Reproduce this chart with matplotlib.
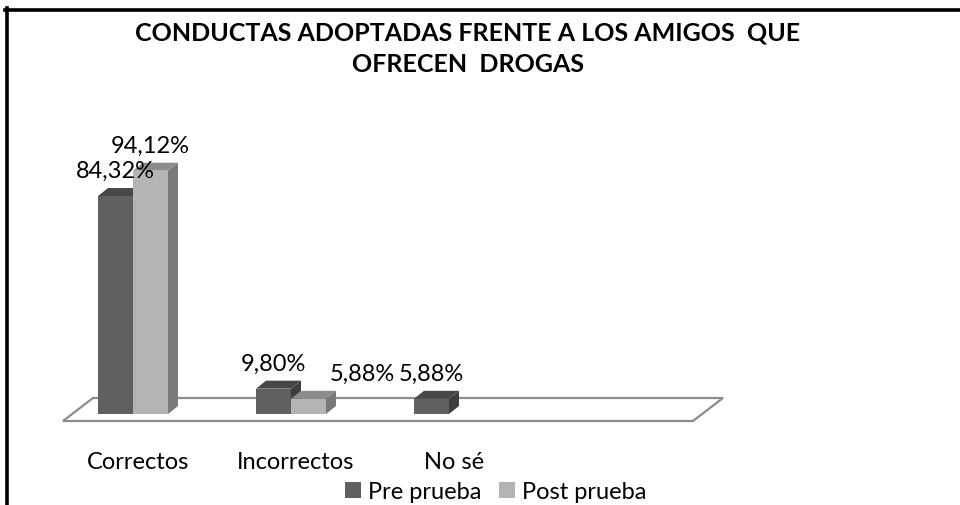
import matplotlib
matplotlib.use("Agg")
import matplotlib.pyplot as plt
from matplotlib.patches import Polygon, Rectangle
from matplotlib.lines import Line2D

# ---------------- data ----------------
title = "CONDUCTAS ADOPTADAS FRENTE A LOS AMIGOS  QUE\nOFRECEN  DROGAS"
categories = ["Correctos", "Incorrectos", "No sé"]
series_names = ["Pre prueba", "Post prueba"]
pre = [84.32, 9.80, 5.88]
post = [94.12, 5.88, 0.0]
pre_labels = ["84,32%", "9,80%", "5,88%"]
post_labels = ["94,12%", "5,88%", ""]

# ---------------- style ----------------
FONT = "Lato"
W, H, DPI = 960, 506, 100
PX_X = 158.0          # pixels per category
PX_Y = 2.585          # pixels per percent
X0_PX, Y0_PX = 133.0, 415.0
bar_w = 35 / PX_X
dx = 10 / PX_X
dy = 8 / PX_Y
colors = {
    "Pre prueba": ("#606060", "#474747", "#3e3e3e"),
    "Post prueba": ("#b4b4b4", "#8c8c8c", "#7a7a7a"),
}
LABEL_SIZE = 17

fig = plt.figure(figsize=(W / DPI, H / DPI), dpi=DPI)
ax = fig.add_axes([0, 0, 1, 1])
ax.set_xlim(-X0_PX / PX_X, (W - X0_PX) / PX_X)
ax.set_ylim(-(H - Y0_PX) / PX_Y, Y0_PX / PX_Y)
ax.axis("off")

# floor
n_slots = len(categories) + 1
f_front, f_back = -7 / PX_Y, 16 / PX_Y
f_left = -0.5 + 0.057
f_depth = 30 / PX_X
floor = Polygon([(f_left, f_front), (f_left + n_slots - 0.013, f_front),
                 (f_left + n_slots - 0.013 + f_depth, f_back), (f_left + f_depth, f_back)],
                closed=True, facecolor="white", edgecolor="#8c8c8c", lw=1.6, zorder=1)
ax.add_patch(floor)

def draw_bar(x0, h, cols, z):
    front, top, side = cols
    x1 = x0 + bar_w
    ax.add_patch(Polygon([(x1, 0), (x1, h), (x1 + dx, h + dy), (x1 + dx, dy)],
                         closed=True, facecolor=side, edgecolor="none", zorder=z))
    ax.add_patch(Polygon([(x0, h), (x1, h), (x1 + dx, h + dy), (x0 + dx, h + dy)],
                         closed=True, facecolor=top, edgecolor="none", zorder=z))
    ax.bar([x0], [h], width=bar_w, align="edge", color=front, edgecolor="none", zorder=z + 0.1)

label_shift = {("Post prueba", 1): 0.34}

for si, (name, vals, labs) in enumerate([("Pre prueba", pre, pre_labels),
                                          ("Post prueba", post, post_labels)]):
    for i, v in enumerate(vals):
        x0 = i - bar_w + si * bar_w
        if v > 0:
            draw_bar(x0, v, colors[name], 2 + si)
        if labs[i]:
            xs = x0 + bar_w / 2 + label_shift.get((name, i), 0)
            ax.annotate(labs[i], (xs, v + dy), xytext=(0, 12.5), textcoords="offset points",
                        ha="center", va="center", fontsize=LABEL_SIZE, family=FONT,
                        color="black", zorder=10)

# category labels
for i, c in enumerate(categories):
    ax.text(i + dx / 2, -(463 - Y0_PX) / PX_Y, c, ha="center", va="center",
            fontsize=LABEL_SIZE, family=FONT, color="black")

# legend
handles = [Rectangle((0, 0), 1, 1, facecolor=colors[n][0], edgecolor="none") for n in series_names]
fig.legend(handles, series_names, loc="center", bbox_to_anchor=(496 / W, 1 - 493 / H),
           ncol=2, frameon=False, prop={"family": FONT, "size": LABEL_SIZE},
           handlelength=0.68, handleheight=0.68, handletextpad=0.3, columnspacing=0.75,
           borderpad=0)

# title
fig.text(468 / W, 1 - 49 / H, title, ha="center", va="center", fontsize=18,
         fontweight="bold", family=FONT, linespacing=1.45)

# border (top and left)
fig.add_artist(Line2D([5 / W, 1], [1 - 10.5 / H, 1 - 10.5 / H], color="black", lw=2.6,
                      transform=fig.transFigure))
fig.add_artist(Line2D([7 / W, 7 / W], [0, 1 - 9 / H], color="black", lw=2.6,
                      transform=fig.transFigure))

fig.savefig("out.png", dpi=DPI, facecolor="white")
